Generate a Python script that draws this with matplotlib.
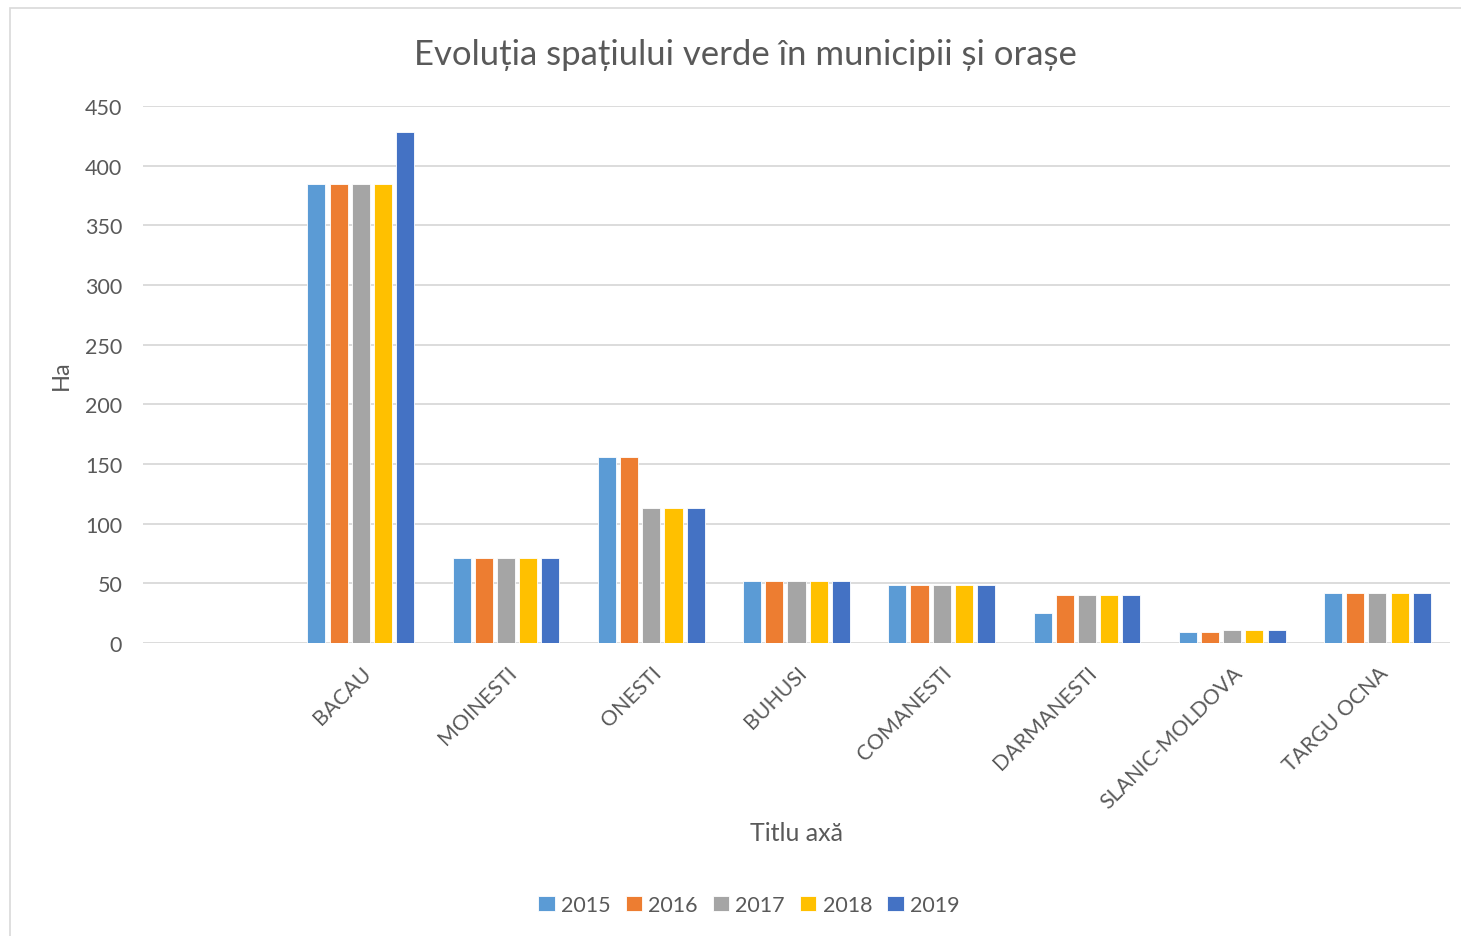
import matplotlib
matplotlib.use("Agg")
import matplotlib.pyplot as plt
import numpy as np
from matplotlib.patches import Rectangle
import matplotlib.transforms as mtransforms

plt.rcParams['font.family'] = ['Lato', 'DejaVu Sans']

categories = ["", "BACAU", "MOINESTI", "ONESTI", "BUHUSI", "COMANESTI",
              "DARMANESTI", "SLANIC-MOLDOVA", "TARGU OCNA"]
years = ["2015", "2016", "2017", "2018", "2019"]
v2015 = [np.nan, 385, 71, 156, 52, 49, 25, 9, 42]
v2016 = [np.nan, 385, 71, 156, 52, 49, 40, 9, 42]
v2017 = [np.nan, 385, 71, 113, 52, 49, 40, 11, 42]
v2018 = [np.nan, 385, 71, 113, 52, 49, 40, 11, 42]
v2019 = [np.nan, 428, 71, 113, 52, 49, 40, 11, 42]
series = [v2015, v2016, v2017, v2018, v2019]
colors = ["#5B9BD5", "#ED7D31", "#A5A5A5", "#FFC000", "#4472C4"]

title = "Evoluția spațiului verde în municipii și orașe"
xlabel = "Titlu axă"
ylabel = "Ha"

W, H = 1461, 937
fig = plt.figure(figsize=(W / 100, H / 100), dpi=100)

# chart frame
fig.patches.append(Rectangle((10 / W, -0.01), 1.0, 1 - 9 / H + 0.01,
                             transform=fig.transFigure, fill=False,
                             edgecolor="#D9D9D9", linewidth=1.2))

ax = fig.add_axes([143 / W, 1 - 644 / H, (1450 - 143) / W, (644 - 107) / H])

x = np.arange(len(categories))
step = 0.153
width = 0.124
for i, (vals, c, yr) in enumerate(zip(series, colors, years)):
    ax.bar(x + (i - 2) * step, vals, width=width, color=c, label=yr,
           edgecolor="white", linewidth=0.6, zorder=3)

ax.set_xlim(-0.5, len(categories) - 0.5)
ax.set_ylim(0, 450)
ax.set_yticks(np.arange(0, 451, 50))
ax.yaxis.grid(True, color="#D9D9D9", linewidth=1.3, zorder=0)
ax.set_axisbelow(True)
for s in ax.spines.values():
    s.set_visible(False)
ax.tick_params(axis="both", length=0, labelsize=15.5, colors="#595959")
ax.tick_params(axis="y", pad=15)

ax.set_xticks(x)
ax.set_xticklabels([])
offset = mtransforms.ScaledTranslation(0 / 100, -19 / 100, fig.dpi_scale_trans)
for xi, lab in zip(x, categories):
    ax.text(xi, 0, lab, rotation=45, ha="right", va="top",
            rotation_mode="anchor", fontsize=15.3, color="#595959",
            transform=ax.get_xaxis_transform() + offset)

fig.text(796 / W, 1 - 834 / H, xlabel, ha="center", va="center",
         fontsize=18, color="#595959")
fig.text(61 / W, 1 - 375 / H, ylabel, ha="center", va="center",
         rotation=90, fontsize=17, color="#595959")
fig.text(745 / W, 1 - 55 / H, title, ha="center", va="center",
         fontsize=25, color="#595959")

handles, labels = ax.get_legend_handles_labels()
leg = fig.legend(handles, labels, loc="center", bbox_to_anchor=(749 / W, 1 - 906 / H),
                 ncol=5, frameon=False, fontsize=15.5, handlelength=0.75,
                 handleheight=0.75, handletextpad=0.3, columnspacing=0.7)
for t in leg.get_texts():
    t.set_color("#595959")

fig.savefig("out.png", dpi=100)
